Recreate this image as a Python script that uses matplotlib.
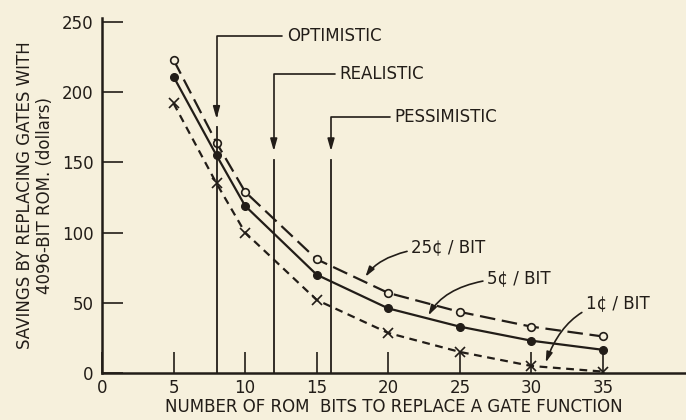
import matplotlib
matplotlib.use("Agg")
import matplotlib.pyplot as plt

# savings curves, one per ROM price
bits = [5, 8, 10, 15, 20, 25, 30, 35]
save_25c = [223, 164, 129, 81, 57, 43.5, 33, 26]
save_5c = [211, 155, 119, 70, 46, 33, 23, 16.5]
save_1c = [192, 135, 100, 52, 28.5, 15, 5, 1]

# scenario markers
scenario_bits = [8, 12, 16]
scenario_names = ["OPTIMISTIC", "REALISTIC", "PESSIMISTIC"]

x_ticks = [0, 5, 10, 15, 20, 25, 30, 35]
y_ticks = [0, 50, 100, 150, 200, 250]

paper = "#f6f0dc"
ink = "#221d18"

plt.rcParams["font.family"] = ["DejaVu Sans"]
fig = plt.figure(figsize=(6.86, 4.2), dpi=100, facecolor=paper)
ax = fig.add_axes([102 / 686, 1 - 373 / 420, 1 - 102 / 686, (373 - 18) / 420])
ax.set_facecolor(paper)
ax.set_xlim(0, 40.8)
ax.set_ylim(0, 252.8)

lw = 1.6
ax.plot(bits, save_25c, color=ink, lw=lw, ls=(0, (7, 3)), marker="o", ms=5.5,
        mfc=paper, mec=ink, mew=1.2)
ax.plot(bits, save_5c, color=ink, lw=lw, ls="-", marker="o", ms=5.5,
        mfc=ink, mec=ink)
ax.plot(bits, save_1c, color=ink, lw=lw, ls=(0, (3.5, 2.5)), marker="x",
        ms=7, mew=1.2, mec=ink)

# scenario lines: vertical rule with a broken arrow and a leader to the label
arrow_tip = [181, 158, 158]
leader_y = [240, 213, 182]
text_x = [12.9, 16.6, 20.4]
for xb, name, tip, ly, tx in zip(scenario_bits, scenario_names, arrow_tip,
                                 leader_y, text_x):
    ax.plot([xb, xb], [0, tip - 6], color=ink, lw=1.3)
    ax.annotate(name, xy=(xb, tip), xytext=(tx, ly), fontsize=12,
                color=ink, va="center", ha="left",
                arrowprops=dict(arrowstyle="-|>,head_length=0.6,head_width=0.17",
                                connectionstyle="angle,angleA=0,angleB=90,rad=0",
                                color=ink, lw=1.2, shrinkA=1, shrinkB=0))

# curve labels with curved pointers
labels = ["25¢ / BIT", "5¢ / BIT", "1¢ / BIT"]
label_xy = [(21.6, 89.7), (26.9, 67.7), (33.8, 50)]
point_xy = [(18.4, 68.5), (22.8, 41), (31.0, 7.5)]
end_angle = [55, 60, 70]
for lab, lxy, pxy, ang in zip(labels, label_xy, point_xy, end_angle):
    ax.annotate(lab, xy=pxy, xytext=lxy, fontsize=12, color=ink,
                va="center", ha="left",
                arrowprops=dict(arrowstyle="-|>,head_length=0.5,head_width=0.15",
                                connectionstyle=f"angle3,angleA=0,angleB={ang}",
                                color=ink, lw=1.2, shrinkA=1, shrinkB=0))

for side in ["top", "right"]:
    ax.spines[side].set_visible(False)
for side in ["left", "bottom"]:
    ax.spines[side].set_color(ink)
    ax.spines[side].set_linewidth(1.8)

ax.set_xticks(x_ticks)
ax.set_yticks(y_ticks)
ax.tick_params(direction="in", length=15, width=1.2, color=ink,
               labelcolor=ink, labelsize=12)
ax.tick_params(axis="x", pad=4)
ax.tick_params(axis="y", pad=6)

ax.set_xlabel("NUMBER OF ROM  BITS TO REPLACE A GATE FUNCTION",
              fontsize=12, color=ink, labelpad=1)
ax.set_ylabel("SAVINGS BY REPLACING GATES WITH\n4096-BIT ROM. (dollars)",
              fontsize=12, color=ink, labelpad=6, linespacing=1.15)

fig.savefig("out.png", dpi=100, facecolor=paper)
